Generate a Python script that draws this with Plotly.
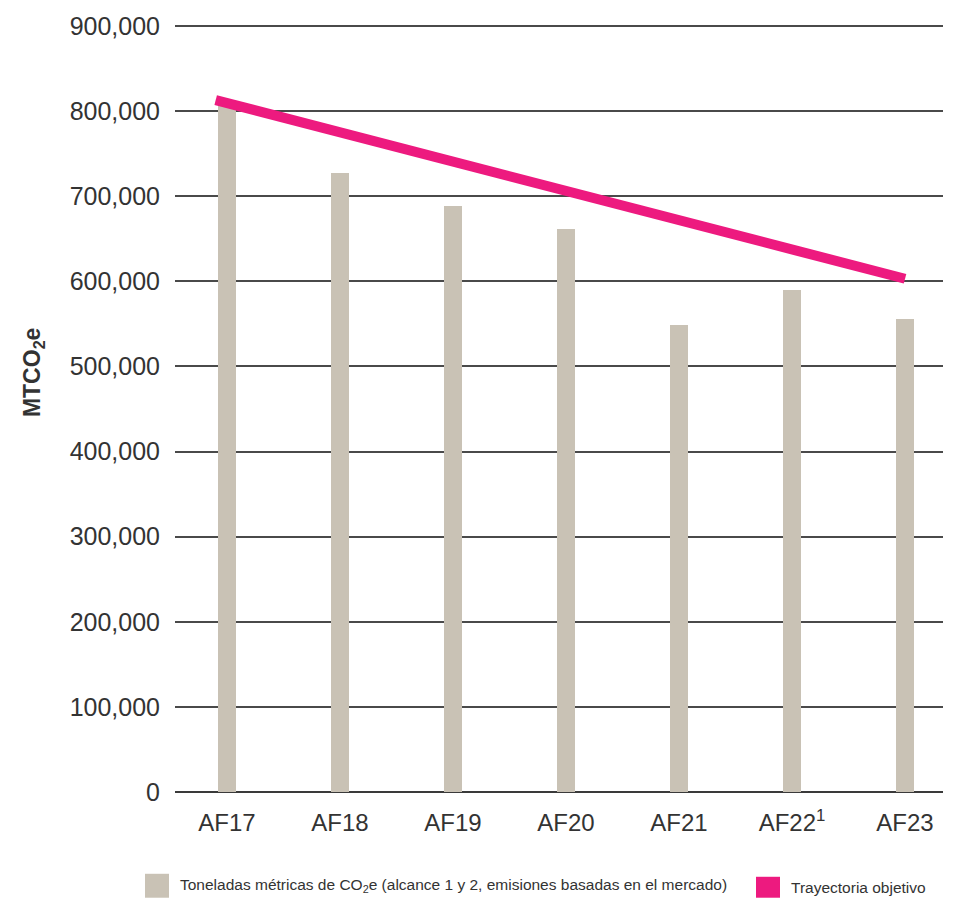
import plotly.graph_objects as go

categories = ["AF17", "AF18", "AF19", "AF20", "AF21", "AF22<sup>1</sup>", "AF23"]
emissions = [808000, 727000, 688000, 662000, 549000, 590000, 556000]
target_positions = [-0.1, 6.0]
target_values = [813000, 603000]
y_ticks = [0, 100000, 200000, 300000, 400000, 500000, 600000, 700000, 800000, 900000]
y_tick_labels = ["0", "100,000", "200,000", "300,000", "400,000", "500,000",
                 "600,000", "700,000", "800,000", "900,000"]
legend_bar_label = "Toneladas métricas de CO<sub>2</sub>e (alcance 1 y 2, emisiones basadas en el mercado)"
legend_line_label = "Trayectoria objetivo"
y_title = "MTCO<sub>2</sub>e"

FONT = "Liberation Sans, Arial, sans-serif"
BAR_COLOR = "#C9C2B5"
LINE_COLOR = "#ED1A7F"
TEXT_COLOR = "#333333"

x_pos = list(range(len(categories)))

# plot area: top 20, bottom at 792 (0 line); 900,000 lands at y=24
T, B = 20, 106
H = 898 - T - B
Y_MAX = 900000 * H / 768.0

fig = go.Figure()
fig.add_trace(go.Bar(x=x_pos, y=emissions, width=0.16, marker_color=BAR_COLOR,
                     marker_line_width=0, showlegend=False))
fig.add_trace(go.Scatter(x=target_positions, y=target_values, mode="lines",
                         line=dict(color=LINE_COLOR, width=10), showlegend=False))

fig.update_layout(
    width=959, height=898,
    margin=dict(l=175, r=16, t=T, b=B),
    plot_bgcolor="white", paper_bgcolor="white",
    font=dict(family=FONT, color=TEXT_COLOR),
    xaxis=dict(range=[-0.46, 6.336], tickvals=x_pos, ticktext=categories,
               showgrid=False, zeroline=False, showline=False,
               ticklabelstandoff=14,
               tickfont=dict(size=24, family=FONT, color=TEXT_COLOR), ticks=""),
    yaxis=dict(range=[0, Y_MAX], tickvals=y_ticks, ticktext=y_tick_labels,
               showgrid=True, gridcolor="#4a4a4a", gridwidth=1.5,
               zeroline=True, zerolinecolor="#3a3a3a", zerolinewidth=2,
               showline=False, ticks="", ticklabelstandoff=14,
               tickfont=dict(size=25, family=FONT, color=TEXT_COLOR)),
    bargap=0,
)

def px(x):
    return (x - 175) / 768.0

def py(y):
    return (792 - y) / float(H)

# Y-axis title
fig.add_annotation(xref="paper", yref="paper", x=px(33), y=py(372),
                   text="<b>" + y_title + "</b>", showarrow=False, textangle=-90,
                   xanchor="center", yanchor="middle",
                   font=dict(size=23, family=FONT, color=TEXT_COLOR))

# Manual legend with square swatches
fig.add_shape(type="rect", xref="paper", yref="paper",
              x0=px(145), x1=px(169), y0=py(898), y1=py(874),
              fillcolor=BAR_COLOR, line_width=0)
fig.add_annotation(xref="paper", yref="paper", x=px(178), y=py(886),
                   text=legend_bar_label, showarrow=False, xanchor="left", yanchor="middle",
                   font=dict(size=15.5, family=FONT, color=TEXT_COLOR))
fig.add_shape(type="rect", xref="paper", yref="paper",
              x0=px(756), x1=px(780), y0=py(898), y1=py(877),
              fillcolor=LINE_COLOR, line_width=0)
fig.add_annotation(xref="paper", yref="paper", x=px(789), y=py(888),
                   text=legend_line_label, showarrow=False, xanchor="left", yanchor="middle",
                   font=dict(size=15.5, family=FONT, color=TEXT_COLOR))

fig.write_html("out.html", config={"displayModeBar": False},
               post_script="document.body.style.margin='0';")
